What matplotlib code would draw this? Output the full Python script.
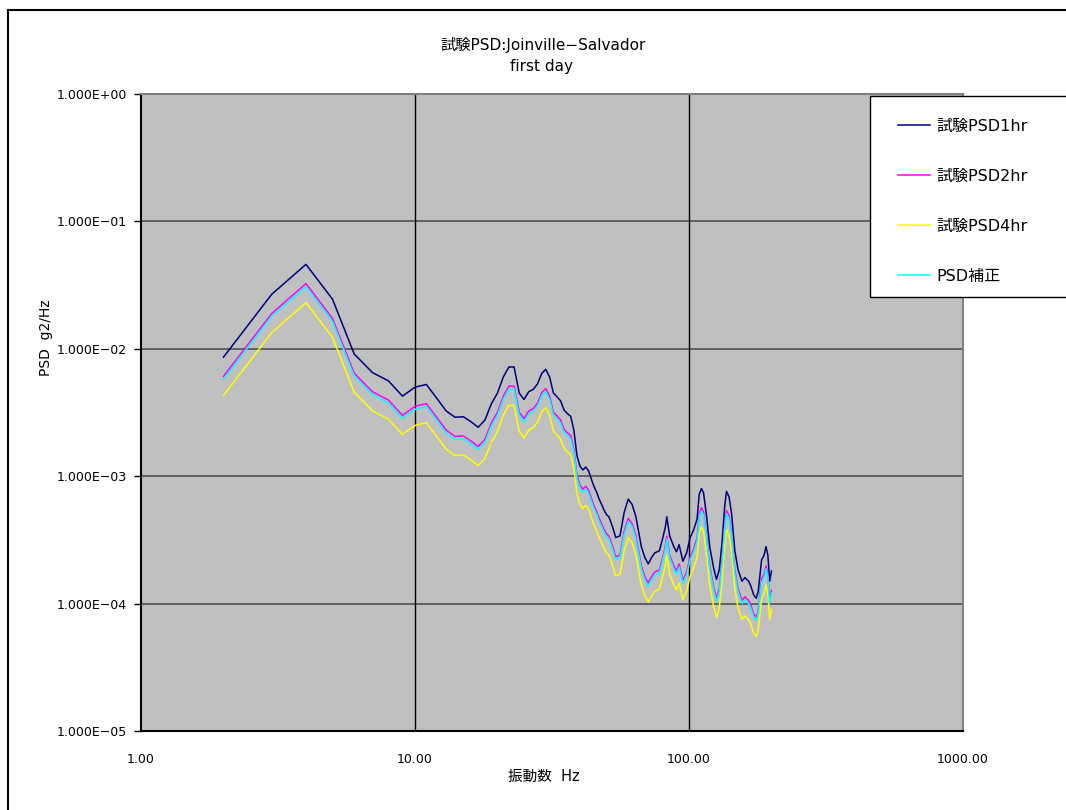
import matplotlib
matplotlib.use('Agg')
import matplotlib.pyplot as plt
from matplotlib.ticker import FixedLocator, FuncFormatter, NullLocator
from matplotlib.lines import Line2D
from matplotlib.patches import Rectangle

plt.rcParams['font.family'] = ['DejaVu Sans', 'Noto Sans CJK JP']

# frequency [Hz] and PSD [g2/Hz]
freq = [2, 3, 4, 5, 6, 7, 8, 9, 10, 11, 12, 13, 14, 15, 16, 17, 18, 19, 20,
        21, 22, 23, 24, 25, 26, 27, 28, 29, 30, 31, 32, 33, 34, 35, 36, 37,
        38, 39, 40, 41, 42, 43, 44, 45, 46, 47, 48, 49, 50, 51, 52, 53, 54,
        56, 58, 60, 62, 64, 65, 67, 69, 71, 73, 75, 78, 80, 82, 83, 85, 88,
        90, 92, 95, 98, 101, 104, 107, 109, 111, 113, 116, 119, 123, 126,
        129, 132, 135, 137, 140, 143, 147, 151, 156, 160, 165, 168, 172, 176,
        179, 184, 188, 191, 194, 197, 200]

psd_1hr = [8.6e-3, 2.68e-2, 4.6e-2, 2.45e-2, 9.1e-3, 6.5e-3, 5.6e-3, 4.25e-3,
           5.0e-3, 5.25e-3, 4.1e-3, 3.25e-3, 2.9e-3, 2.93e-3, 2.68e-3, 2.42e-3,
           2.76e-3, 3.7e-3, 4.5e-3, 6.0e-3, 7.2e-3, 7.2e-3, 4.5e-3, 4.0e-3,
           4.6e-3, 4.8e-3, 5.3e-3, 6.4e-3, 6.9e-3, 6.0e-3, 4.5e-3, 4.2e-3,
           3.9e-3, 3.3e-3, 3.1e-3, 2.95e-3, 2.3e-3, 1.45e-3, 1.2e-3, 1.12e-3,
           1.18e-3, 1.1e-3, 9.5e-4, 8.3e-4, 7.5e-4, 6.6e-4, 6.0e-4, 5.4e-4,
           5.0e-4, 4.8e-4, 4.3e-4, 3.8e-4, 3.3e-4, 3.4e-4, 5.2e-4, 6.6e-4,
           6.0e-4, 4.8e-4, 4.0e-4, 2.8e-4, 2.3e-4, 2.05e-4, 2.3e-4, 2.5e-4,
           2.6e-4, 3.2e-4, 4.0e-4, 4.8e-4, 3.4e-4, 2.8e-4, 2.55e-4, 2.9e-4,
           2.15e-4, 2.5e-4, 3.3e-4, 3.8e-4, 4.6e-4, 7.2e-4, 8.0e-4, 7.4e-4,
           4.8e-4, 2.8e-4, 1.9e-4, 1.55e-4, 1.85e-4, 3.0e-4, 5.8e-4, 7.6e-4,
           6.9e-4, 5.1e-4, 2.6e-4, 1.85e-4, 1.5e-4, 1.6e-4, 1.5e-4, 1.38e-4,
           1.18e-4, 1.1e-4, 1.25e-4, 2.2e-4, 2.4e-4, 2.8e-4, 2.4e-4, 1.5e-4,
           1.8e-4]

psd_2hr = [6.08e-3, 1.89e-2, 3.25e-2, 1.73e-2, 6.43e-3, 4.6e-3, 3.96e-3, 3.0e-3,
           3.54e-3, 3.71e-3, 2.9e-3, 2.3e-3, 2.05e-3, 2.07e-3, 1.89e-3, 1.71e-3,
           1.95e-3, 2.62e-3, 3.18e-3, 4.24e-3, 5.09e-3, 5.09e-3, 3.18e-3, 2.83e-3,
           3.25e-3, 3.39e-3, 3.75e-3, 4.52e-3, 4.88e-3, 4.24e-3, 3.18e-3, 2.97e-3,
           2.76e-3, 2.33e-3, 2.19e-3, 2.09e-3, 1.63e-3, 1.03e-3, 8.48e-4, 7.92e-4,
           8.34e-4, 7.78e-4, 6.72e-4, 5.87e-4, 5.3e-4, 4.67e-4, 4.24e-4, 3.82e-4,
           3.54e-4, 3.39e-4, 3.04e-4, 2.69e-4, 2.33e-4, 2.4e-4, 3.68e-4, 4.67e-4,
           4.24e-4, 3.39e-4, 2.83e-4, 1.98e-4, 1.63e-4, 1.45e-4, 1.63e-4, 1.77e-4,
           1.84e-4, 2.26e-4, 2.83e-4, 3.39e-4, 2.4e-4, 1.98e-4, 1.8e-4, 2.05e-4,
           1.52e-4, 1.77e-4, 2.33e-4, 2.69e-4, 3.25e-4, 5.09e-4, 5.66e-4, 5.23e-4,
           3.39e-4, 1.98e-4, 1.34e-4, 1.1e-4, 1.31e-4, 2.12e-4, 4.1e-4, 5.37e-4,
           4.88e-4, 3.61e-4, 1.84e-4, 1.31e-4, 1.06e-4, 1.13e-4, 1.06e-4, 9.76e-5,
           8.34e-5, 7.78e-5, 8.84e-5, 1.56e-4, 1.7e-4, 1.98e-4, 1.7e-4, 1.06e-4,
           1.27e-4]

psd_4hr = [4.3e-3, 1.34e-2, 2.3e-2, 1.23e-2, 4.55e-3, 3.25e-3, 2.8e-3, 2.13e-3,
           2.5e-3, 2.63e-3, 2.05e-3, 1.63e-3, 1.45e-3, 1.47e-3, 1.34e-3, 1.21e-3,
           1.38e-3, 1.85e-3, 2.25e-3, 3.0e-3, 3.6e-3, 3.6e-3, 2.25e-3, 2.0e-3,
           2.3e-3, 2.4e-3, 2.65e-3, 3.2e-3, 3.45e-3, 3.0e-3, 2.25e-3, 2.1e-3,
           1.95e-3, 1.65e-3, 1.55e-3, 1.48e-3, 1.15e-3, 7.25e-4, 6.0e-4, 5.6e-4,
           5.9e-4, 5.5e-4, 4.75e-4, 4.15e-4, 3.75e-4, 3.3e-4, 3.0e-4, 2.7e-4,
           2.5e-4, 2.4e-4, 2.15e-4, 1.9e-4, 1.65e-4, 1.7e-4, 2.6e-4, 3.3e-4,
           3.0e-4, 2.4e-4, 2.0e-4, 1.4e-4, 1.15e-4, 1.03e-4, 1.15e-4, 1.25e-4,
           1.3e-4, 1.6e-4, 2.0e-4, 2.4e-4, 1.7e-4, 1.4e-4, 1.28e-4, 1.45e-4,
           1.08e-4, 1.25e-4, 1.65e-4, 1.9e-4, 2.3e-4, 3.6e-4, 4.0e-4, 3.7e-4,
           2.4e-4, 1.4e-4, 9.5e-5, 7.75e-5, 9.25e-5, 1.5e-4, 2.9e-4, 3.8e-4,
           3.45e-4, 2.55e-4, 1.3e-4, 9.25e-5, 7.5e-5, 8.0e-5, 7.5e-5, 6.9e-5,
           5.9e-5, 5.5e-5, 6.25e-5, 1.1e-4, 1.2e-4, 1.4e-4, 1.2e-4, 7.5e-5,
           9.0e-5]

psd_corr = [5.76e-3, 1.80e-2, 3.08e-2, 1.64e-2, 6.10e-3, 4.36e-3, 3.75e-3, 2.85e-3,
            3.35e-3, 3.52e-3, 2.75e-3, 2.18e-3, 1.94e-3, 1.96e-3, 1.80e-3, 1.62e-3,
            1.85e-3, 2.48e-3, 3.02e-3, 4.02e-3, 4.82e-3, 4.82e-3, 3.02e-3, 2.68e-3,
            3.08e-3, 3.22e-3, 3.55e-3, 4.29e-3, 4.62e-3, 4.02e-3, 3.02e-3, 2.81e-3,
            2.61e-3, 2.21e-3, 2.08e-3, 1.98e-3, 1.54e-3, 9.72e-4, 8.04e-4, 7.5e-4,
            7.91e-4, 7.37e-4, 6.37e-4, 5.56e-4, 5.03e-4, 4.42e-4, 4.02e-4, 3.62e-4,
            3.35e-4, 3.22e-4, 2.88e-4, 2.55e-4, 2.21e-4, 2.28e-4, 3.48e-4, 4.42e-4,
            4.02e-4, 3.22e-4, 2.68e-4, 1.88e-4, 1.54e-4, 1.37e-4, 1.54e-4, 1.68e-4,
            1.74e-4, 2.14e-4, 2.68e-4, 3.22e-4, 2.28e-4, 1.88e-4, 1.71e-4, 1.94e-4,
            1.44e-4, 1.68e-4, 2.21e-4, 2.55e-4, 3.08e-4, 4.82e-4, 5.36e-4, 4.96e-4,
            3.22e-4, 1.88e-4, 1.27e-4, 1.04e-4, 1.24e-4, 2.01e-4, 3.89e-4, 5.09e-4,
            4.62e-4, 3.42e-4, 1.74e-4, 1.24e-4, 1.0e-4, 1.07e-4, 1.0e-4, 9.25e-5,
            7.91e-5, 7.37e-5, 8.38e-5, 1.47e-4, 1.61e-4, 1.88e-4, 1.61e-4, 1.0e-4,
            1.21e-4]

x_ticks = [1, 10, 100, 1000]
y_ticks = [1e-5, 1e-4, 1e-3, 1e-2, 1e-1, 1e0]

fig = plt.figure(figsize=(10.66, 8.10), dpi=100)
ax = fig.add_axes([141 / 1066, 1 - 731 / 810, 822 / 1066, 637 / 810])
ax.set_facecolor('#c0c0c0')

# outer chart frame (only top and left visible in the reference)
fig.add_artist(Line2D([8 / 1066, 1], [1 - 10 / 810, 1 - 10 / 810], color='black', lw=1.5))
fig.add_artist(Line2D([8 / 1066, 8 / 1066], [0, 1 - 10 / 810], color='black', lw=1.5))

ax.plot(freq, psd_1hr, color='#000080', lw=1.1, label='試験PSD1hr')
ax.plot(freq, psd_2hr, color='#ff00ff', lw=1.1, label='試験PSD2hr')
ax.plot(freq, psd_4hr, color='#ffff00', lw=1.1, label='試験PSD4hr')
ax.plot(freq, psd_corr, color='#00ffff', lw=1.1, label='PSD補正')

ax.set_xscale('log')
ax.set_yscale('log')
ax.set_xlim(1, 1000)
ax.set_ylim(1e-5, 1)

ax.xaxis.set_major_locator(FixedLocator(x_ticks))
ax.xaxis.set_minor_locator(NullLocator())
ax.yaxis.set_major_locator(FixedLocator(y_ticks))
ax.yaxis.set_minor_locator(NullLocator())
ax.xaxis.set_major_formatter(FuncFormatter(lambda v, p: f'{v:.2f}'))
ax.yaxis.set_major_formatter(FuncFormatter(
    lambda v, p: f'{v:.3E}'.replace('-', '\u2212')))

ax.tick_params(axis='x', length=0, pad=16, labelsize=9)
ax.tick_params(axis='y', length=5, width=1, pad=5, labelsize=9, direction='out')

# gridlines: horizontal grey, vertical black
for yv in y_ticks[1:-1]:
    ax.axhline(yv, color='#505050', lw=1.2, zorder=1)
for xv in x_ticks[1:-1]:
    ax.axvline(xv, color='black', lw=1.0, zorder=1)

for s in ['top', 'right']:
    ax.spines[s].set_color('#808080')
    ax.spines[s].set_linewidth(1.5)
for s in ['left', 'bottom']:
    ax.spines[s].set_color('black')
    ax.spines[s].set_linewidth(1.5)

fig.text(543 / 1066, 1 - 45 / 810, '試験PSD:Joinville\u2212Salvador', ha='center', va='center', fontsize=11)
fig.text(541 / 1066, 1 - 67 / 810, 'first day', ha='center', va='center', fontsize=11)
fig.text(544 / 1066, 1 - 776 / 810, '振動数  Hz', ha='center', va='center', fontsize=10.5)
fig.text(46 / 1066, 1 - 338 / 810, 'PSD  g2/Hz', ha='center', va='center', rotation=90, fontsize=10)

# legend box reaches the right edge of the chart in the reference
fig.add_artist(Rectangle((870 / 1066, 1 - 297 / 810), 200 / 1066, 201 / 810,
                         transform=fig.transFigure, facecolor='white',
                         edgecolor='black', lw=1.0, zorder=4))
handles, labels = ax.get_legend_handles_labels()
leg = fig.legend(handles, labels, loc='upper left',
                 bbox_to_anchor=(888 / 1066, 1 - 109 / 810),
                 fontsize=11.5, frameon=False, borderpad=0.6, labelspacing=2.2,
                 handlelength=2.0, handletextpad=0.4, borderaxespad=0)
leg.set_zorder(5)

fig.savefig('out.png', dpi=100)
